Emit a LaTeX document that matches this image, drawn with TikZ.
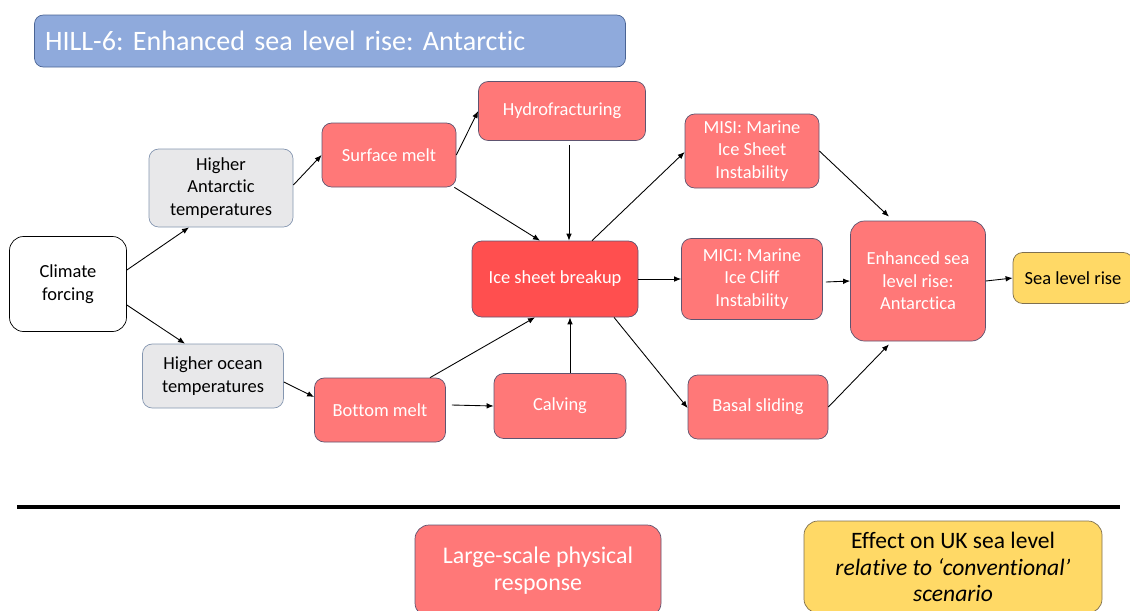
\documentclass[tikz,border=0pt]{standalone}
\usepackage{fontspec}
\setmainfont{Carlito}[Ligatures=NoCommon]
\usetikzlibrary{arrows.meta,calc}
\frenchspacing

\definecolor{titleblue}{HTML}{8FAADC}
\definecolor{titleline}{HTML}{4A6494}
\definecolor{boxred}{HTML}{FF7878}
\definecolor{breakred}{HTML}{FF4F4F}
\definecolor{boxline}{HTML}{5E5470}
\definecolor{greyfill}{HTML}{E8E8EA}
\definecolor{greyline}{HTML}{8496B0}
\definecolor{seayellow}{HTML}{FFD966}
\definecolor{yellowline}{HTML}{7F7050}

\tikzset{
  sz/.style 2 args={minimum width=#1*0.02cm, minimum height=#2*0.02cm},
  redbox/.style={shape=rectangle, rounded corners=5.5pt, draw=boxline, fill=boxred,
    text=white, align=center, inner sep=1pt, font=\fontsize{10.5}{12.8}\selectfont},
  greybox/.style={redbox, draw=greyline, fill=greyfill, text=black},
  whitebox/.style={redbox, draw=black, fill=white, text=black},
  yellowbox/.style={redbox, draw=yellowline, fill=seayellow, text=black},
  link/.style={-{Latex[length=4pt,width=3.2pt]}, line width=0.5pt, black},
}

\begin{document}
\begin{tikzpicture}[x=0.02cm, y=-0.02cm]
  \useasboundingbox (0,0) rectangle (1130,610);

  % title bar
  \node[redbox, sz={591}{52}, draw=titleline, fill=titleblue, rounded corners=5pt,
        text width=570*0.02cm, align=left, font=\fontsize{16}{20}\selectfont] (Title)
        at (330,41) {HILL-6: Enhanced sea level rise: Antarctic};

  % drivers
  \node[whitebox, sz={117}{95}, rounded corners=8pt] (Climate) at (68,284) {Climate\\forcing};
  \node[greybox, sz={144}{78}] (AntTemp) at (221,188) {Higher\\Antarctic\\temperatures};
  \node[greybox, sz={141}{64}] (OceanTemp) at (213,376) {Higher ocean\\temperatures};

  % processes
  \node[redbox, sz={134}{64}] (Surface) at (389,155) {Surface melt};
  \node[redbox, sz={167}{59}] (Hydro) at (562,111) {Hydrofracturing};
  \node[redbox, sz={166}{76}, fill=breakred] (Breakup) at (555,279) {Ice sheet breakup};
  \node[redbox, sz={131}{64}] (Bottom) at (380,410) {Bottom melt};
  \node[redbox, sz={132}{65}] (Calving) at (560,406) {Calving};
  \node[redbox, sz={134}{74}] (MISI) at (752,151) {MISI: Marine\\Ice Sheet\\Instability};
  \node[redbox, sz={141}{81}] (MICI) at (752,279) {MICI: Marine\\Ice Cliff\\Instability};
  \node[redbox, sz={140}{64}] (Basal) at (758,407) {Basal sliding};
  \node[redbox, sz={135}{120}, rounded corners=8pt] (Enhanced) at (918,281)
       {Enhanced sea\\level rise:\\Antarctica};
  \node[yellowbox, sz={120}{51}] (SeaRise) at (1073,278) {Sea level rise};

  % separator and legend
  \coordinate (SepL) at (17,507);
  \coordinate (SepR) at (1120,507);
  \draw[line width=4.5*0.02cm] (SepL) -- (SepR);
  \node[redbox, sz={246}{92}, rounded corners=8pt, font=\fontsize{13.6}{15.5}\selectfont]
       (KeyRed) at (538,571) {Large-scale physical\\response};
  \node[yellowbox, sz={298}{92}, rounded corners=8pt, font=\fontsize{13.4}{15}\selectfont]
       (KeyYellow) at (953,567)
       {Effect on UK sea level\\\textit{relative to `conventional'}\\\textit{scenario}};

  % connectors
  \path [link] ($(Climate.east)+(0,-14)$) edge ($(AntTemp.south)+(-32,0)$);
  \path [link] ($(Climate.east)+(0,21)$) edge ($(OceanTemp.north)+(-28,0)$);
  \path [link] ($(AntTemp.east)+(0,-3)$) edge (Surface.west);
  \path [link] ($(OceanTemp.east)+(0,6)$) edge ($(Bottom.west)+(0,-13)$);
  \path [link] (Surface.east) edge (Hydro.west);
  \path [link] ($(Surface.south east)+(-2,0)$) edge ($(Breakup.north)+(-15,0)$);
  \path [link] ($(Hydro.south)+(7,4)$) edge ($(Breakup.north)+(14,0)$);
  \path [link] ($(Bottom.north)+(50,0)$) edge ($(Breakup.south)+(-20,0)$);
  \path [link] ($(Bottom.east)+(6,-5)$) edge ($(Calving.west)+(0,0)$);
  \path [link] ($(Calving.north)+(10,0)$) edge ($(Breakup.south)+(15,0)$);
  \path [link] ($(Breakup.north)+(37,0)$) edge ($(MISI.west)+(0,1)$);
  \path [link] (Breakup.east) edge (MICI.west);
  \path [link] ($(Breakup.south)+(59,0)$) edge ($(Basal.west)+(0,1)$);
  \path [link] (MISI.east) edge ($(Enhanced.north)+(-29,-4)$);
  \path [link] ($(MICI.east)+(3,3)$) edge (Enhanced.west);
  \path [link] (Basal.east) edge ($(Enhanced.south)+(-29,3)$);
  \path [link] (Enhanced.east) edge (SeaRise.west);
\end{tikzpicture}
\end{document}
